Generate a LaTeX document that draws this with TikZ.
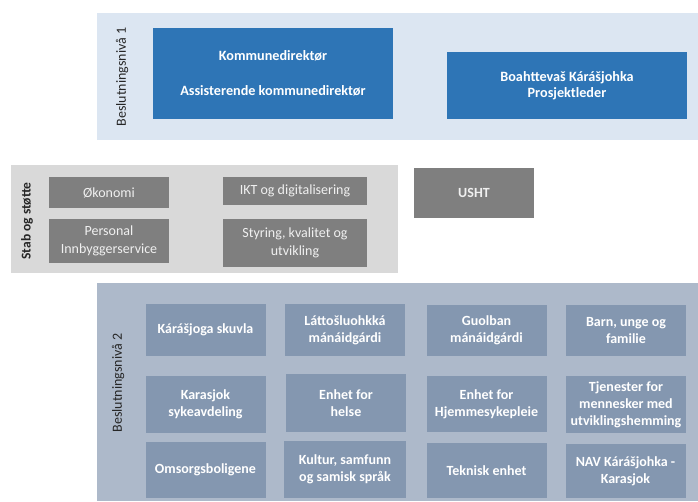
\documentclass[tikz,border=0pt]{standalone}
\usepackage{fontspec}
\setmainfont{Carlito}
\usepackage{xcolor}
\usepackage{tikz}
\usetikzlibrary{positioning}

\definecolor{nivaaen}{HTML}{DCE6F2}
\definecolor{lederblaa}{HTML}{2E75B6}
\definecolor{stabgraa}{HTML}{D9D9D9}
\definecolor{boksgraa}{HTML}{7F7F7F}
\definecolor{nivaato}{HTML}{ADB9CA}
\definecolor{enhetblaa}{HTML}{8497B0}

\tikzset{
    lederboks/.style={fill=lederblaa, text=white, align=center, inner sep=0pt,
        font=\fontsize{14.2}{16}\selectfont\bfseries},
    stabboks/.style={fill=boksgraa, text=white!94!black, align=center, inner sep=0pt,
        font=\fontsize{14}{18}\selectfont},
    enhetboks/.style={fill=enhetblaa, text=white, align=center, inner sep=0pt,
        minimum width=120pt, font=\fontsize{14}{17}\selectfont\bfseries},
    nivaatekst/.style={rotate=90, text=black!85, font=\fontsize{14}{16}\selectfont}
}

\begin{document}
\begin{tikzpicture}[x=1pt, y=-1pt]
    \useasboundingbox (0,0) rectangle (698,501);

    % 1. Beslutningsnivå 1
    \fill[nivaaen] (97,13) rectangle (698,140);
    \node[nivaatekst] (niva1) at (122,77) {Beslutningsnivå 1};
    \node[lederboks, minimum width=240pt, minimum height=91pt] (kommunedir) at (273,73.5)
        {Kommunedirektør\\[19pt]Assisterende kommunedirektør};
    \node[lederboks, minimum width=240pt, minimum height=67pt] (prosjekt) at (567,85.5)
        {Boahttevaš Kárášjohka\\Prosjektleder};

    % 2. Stab og støtte
    \fill[stabgraa] (11,165) rectangle (398,273);
    \node[nivaatekst, font=\fontsize{13.5}{16}\selectfont\bfseries] (stab) at (27,221) {Stab og støtte};
    \node[stabboks, minimum width=120pt, minimum height=31pt] (okonomi) at (109,192.5) {Økonomi};
    \node[stabboks, minimum width=120pt, minimum height=44pt] (personal) at (109,241)
        {Personal\\Innbyggerservice};
    \node[stabboks, minimum width=144pt, minimum height=28pt] (ikt) at (295,191) {IKT og digitalisering};
    \node[stabboks, minimum width=144pt, minimum height=48pt] (styring) at (295,243)
        {Styring, kvalitet og\\utvikling};
    \node[stabboks, minimum width=120pt, minimum height=50pt, font=\fontsize{14}{18}\selectfont\bfseries] (usht) at (474,193) {USHT};

    % 3. Beslutningsnivå 2
    \fill[nivaato] (97,283) rectangle (698,501);
    \node[nivaatekst] (niva2) at (118,383) {Beslutningsnivå 2};

    \node[enhetboks, minimum height=52pt] (skuvla) at (205.5,330) {Kárášjoga skuvla};
    \node[enhetboks, minimum height=52pt] (latto) at (345,330) {Láttošluohkká\\mánáidgárdi};
    \node[enhetboks, minimum height=51pt] (guolban) at (486.5,330.5) {Guolban\\mánáidgárdi};
    \node[enhetboks, minimum height=51pt] (barn) at (626,330.5) {Barn, unge og\\familie};

    \node[enhetboks, minimum height=57pt] (sykeavd) at (205.5,404.5) {Karasjok\\sykeavdeling};
    \node[enhetboks, minimum height=58pt] (helse) at (346,403) {Enhet for\\helse};
    \node[enhetboks, minimum height=56pt] (hjemme) at (486.5,404) {Enhet for\\Hjemmesykepleie};
    \node[enhetboks, minimum height=57pt] (tjenester) at (626,404.5)
        {Tjenester for\\mennesker med\\utviklingshemming};

    \node[enhetboks, minimum height=56pt] (omsorg) at (205.5,470) {Omsorgsboligene};
    \node[enhetboks, minimum height=57pt, minimum width=122pt] (kultur) at (345,469.5)
        {Kultur, samfunn\\og samisk språk};
    \node[enhetboks, minimum height=55pt] (teknisk) at (486.5,470.5) {Teknisk enhet};
    \node[enhetboks, minimum height=54pt] (nav) at (625.5,471) {NAV Kárášjohka -\\Karasjok};

\end{tikzpicture}
\end{document}
